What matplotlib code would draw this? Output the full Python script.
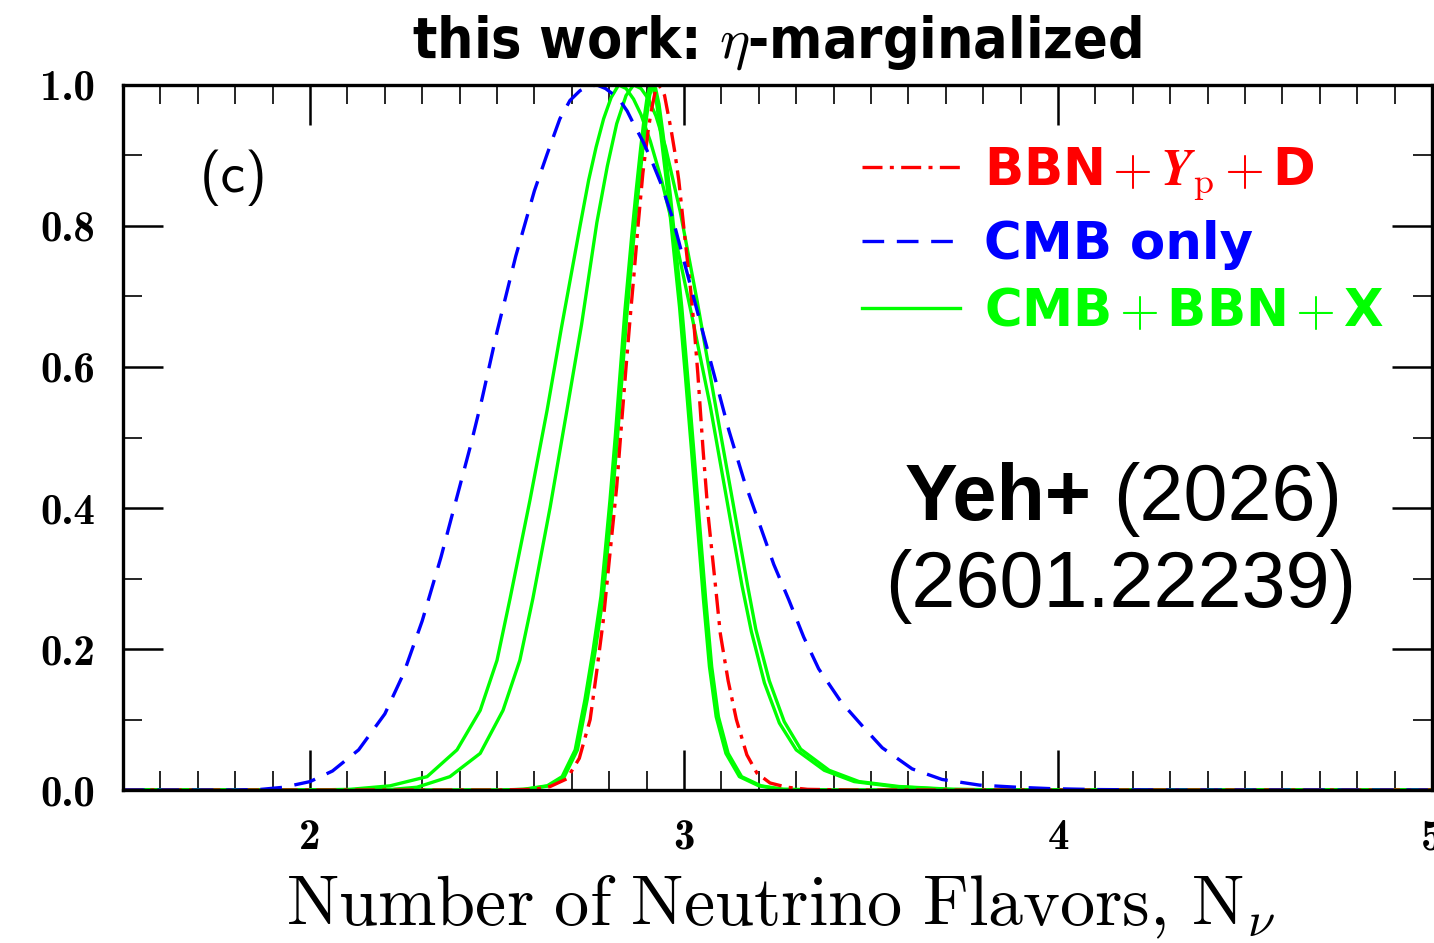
import matplotlib
matplotlib.use("Agg")
import matplotlib.pyplot as plt
from matplotlib import font_manager
from matplotlib.font_manager import FontProperties
from matplotlib.ticker import FixedLocator, MultipleLocator, FuncFormatter

plt.rcParams["mathtext.fontset"] = "cm"

# ---- likelihood curves, normalised to peak = 1 ----
# BBN + Yp + D
bbn_n = [1.5, 2.50, 2.60, 2.642, 2.687, 2.720, 2.749, 2.767, 2.784, 2.800, 2.820, 2.833,
         2.845, 2.856, 2.866, 2.877, 2.890, 2.904, 2.912, 2.920, 2.924, 2.932, 2.940,
         2.948, 2.954, 2.965, 2.975, 2.986, 3.003, 3.017, 3.027, 3.037, 3.051, 3.065,
         3.085, 3.097, 3.118, 3.140, 3.168, 3.195, 3.230, 3.275, 3.330, 3.450, 5.0]
bbn_p = [0.0, 0.0, 0.001, 0.005, 0.016, 0.045, 0.100, 0.170, 0.240, 0.325, 0.430, 0.520,
         0.600, 0.670, 0.730, 0.800, 0.875, 0.935, 0.962, 0.983, 0.993, 1.000, 0.995,
         0.985, 0.968, 0.938, 0.906, 0.865, 0.780, 0.713, 0.657, 0.590, 0.482, 0.387,
         0.285, 0.222, 0.155, 0.100, 0.050, 0.024, 0.010, 0.004, 0.001, 0.0, 0.0]

# CMB only
cmb_n = [1.5, 1.80, 1.87, 1.93, 2.00, 2.06, 2.13, 2.20, 2.25, 2.30, 2.35, 2.40, 2.43,
         2.46, 2.50, 2.55, 2.60, 2.634, 2.668, 2.695, 2.722, 2.745, 2.767, 2.79, 2.81,
         2.83, 2.848, 2.865, 2.89, 2.914, 2.94, 2.97, 3.00, 3.04, 3.08, 3.12, 3.16,
         3.20, 3.24, 3.28, 3.32, 3.36, 3.42, 3.48, 3.53, 3.61, 3.69, 3.79, 3.89, 3.98,
         4.10, 4.30, 5.0]
cmb_p = [0.0, 0.0, 0.001, 0.004, 0.012, 0.027, 0.057, 0.108, 0.165, 0.240, 0.330, 0.430,
         0.490, 0.555, 0.650, 0.757, 0.850, 0.902, 0.952, 0.978, 0.992, 0.998, 1.000,
         0.995, 0.987, 0.977, 0.963, 0.945, 0.920, 0.892, 0.858, 0.810, 0.750, 0.670,
         0.590, 0.510, 0.440, 0.380, 0.320, 0.270, 0.217, 0.172, 0.125, 0.089, 0.060,
         0.030, 0.015, 0.007, 0.004, 0.002, 0.0007, 0.0, 0.0]

# CMB + BBN + X combinations
comb1_n = [1.5, 2.00, 2.107, 2.214, 2.313, 2.393, 2.455, 2.500, 2.535, 2.588, 2.634,
           2.672, 2.722, 2.745, 2.765, 2.785, 2.805, 2.825, 2.845, 2.865, 2.885, 2.910,
           2.940, 2.970, 3.020, 3.070, 3.115, 3.155, 3.180, 3.215, 3.255, 3.300, 3.375,
           3.455, 3.560, 3.700, 3.900, 5.0]
comb1_p = [0.0, 0.0, 0.001, 0.006, 0.019, 0.057, 0.113, 0.184, 0.272, 0.411, 0.539,
           0.655, 0.800, 0.865, 0.912, 0.952, 0.982, 1.000, 0.995, 0.980, 0.958, 0.920,
           0.865, 0.800, 0.675, 0.545, 0.410, 0.290, 0.225, 0.152, 0.095, 0.057, 0.028,
           0.012, 0.005, 0.001, 0.0, 0.0]

comb2_n = [1.5, 2.15, 2.220, 2.286, 2.374, 2.455, 2.516, 2.561, 2.596, 2.642, 2.687,
           2.726, 2.767, 2.795, 2.820, 2.845, 2.865, 2.885, 2.905, 2.925, 2.950, 2.990,
           3.035, 3.080, 3.130, 3.170, 3.192, 3.228, 3.268, 3.312, 3.388, 3.468, 3.575,
           3.720, 3.900, 5.0]
comb2_p = [0.0, 0.0, 0.001, 0.004, 0.019, 0.052, 0.113, 0.184, 0.272, 0.401, 0.539,
           0.660, 0.805, 0.885, 0.945, 0.985, 1.000, 0.995, 0.980, 0.956, 0.913, 0.820,
           0.694, 0.558, 0.410, 0.290, 0.228, 0.155, 0.097, 0.058, 0.028, 0.012, 0.005,
           0.001, 0.0, 0.0]

comb3_n = [1.5, 2.50, 2.570, 2.634, 2.674, 2.709, 2.735, 2.757, 2.778, 2.802, 2.816,
           2.826, 2.842, 2.860, 2.872, 2.884, 2.894, 2.902, 2.910, 2.918, 2.927, 2.938,
           2.958, 2.976, 2.988, 3.004, 3.020, 3.036, 3.052, 3.068, 3.086, 3.112, 3.148,
           3.200, 3.260, 3.400, 5.0]
comb3_p = [0.0, 0.0, 0.001, 0.006, 0.019, 0.057, 0.128, 0.199, 0.275, 0.411, 0.500,
           0.570, 0.680, 0.785, 0.850, 0.910, 0.955, 0.985, 1.000, 0.995, 0.973, 0.930,
           0.841, 0.747, 0.685, 0.585, 0.482, 0.375, 0.270, 0.175, 0.104, 0.052, 0.019,
           0.006, 0.001, 0.0, 0.0]

comb4_n = [1.5, 2.51, 2.576, 2.640, 2.680, 2.715, 2.741, 2.763, 2.784, 2.808, 2.822,
           2.832, 2.848, 2.866, 2.878, 2.890, 2.900, 2.908, 2.916, 2.924, 2.933, 2.944,
           2.964, 2.982, 2.994, 3.010, 3.026, 3.042, 3.058, 3.074, 3.092, 3.118, 3.154,
           3.206, 3.266, 3.410, 5.0]
comb4_p = [0.0, 0.0, 0.001, 0.006, 0.019, 0.057, 0.128, 0.199, 0.275, 0.411, 0.500,
           0.570, 0.680, 0.785, 0.850, 0.910, 0.955, 0.985, 1.000, 0.995, 0.973, 0.930,
           0.841, 0.747, 0.685, 0.585, 0.482, 0.375, 0.270, 0.175, 0.104, 0.052, 0.019,
           0.006, 0.001, 0.0, 0.0]

x_ticks = [2, 3, 4, 5]
y_ticks = [0.0, 0.2, 0.4, 0.6, 0.8, 1.0]

# "{+}" keeps mathtext from adding binary-operator padding; "\," gives a thin gap
legend_labels = [r"BBN$\,{+}\,$$\mathbfit{Y}_{\mathrm{p}}$$\,{+}\,$D",
                 "CMB only",
                 r"CMB$\,{+}\,$BBN$\,{+}\,$X"]

RED, BLUE, GREEN = "#ff0000", "#0000ff", "#00ff00"
LW = 2.4


def title_font(size):
    """Bold condensed sans if one is installed, otherwise a plain bold sans."""
    for f in font_manager.fontManager.ttflist:
        if f.name == "DejaVu Sans" and str(f.stretch) == "condensed" \
                and str(f.weight) in ("bold", "700"):
            return FontProperties(fname=f.fname, size=size)
    return FontProperties(family="Liberation Sans", weight="bold", size=size)


fig = plt.figure(figsize=(14.34, 9.43), dpi=100)
ax = fig.add_axes([0.0858, 0.1622, 0.9128, 0.7477])

green_lines = []
for n, p in [(comb1_n, comb1_p), (comb2_n, comb2_p), (comb3_n, comb3_p), (comb4_n, comb4_p)]:
    green_lines += ax.plot(n, p, color=GREEN, lw=LW, solid_joinstyle="round")
bbn_line, = ax.plot(bbn_n, bbn_p, color=RED, lw=LW, linestyle=(0, (6.0, 2.2, 1.2, 2.2)))
cmb_line, = ax.plot(cmb_n, cmb_p, color=BLUE, lw=LW, linestyle=(0, (6.5, 3.8)))

ax.set_xlim(1.5, 5.0)
ax.set_ylim(0.0, 1.0)

for s in ax.spines.values():
    s.set_linewidth(2.4)

ax.xaxis.set_major_locator(FixedLocator(x_ticks))
ax.xaxis.set_minor_locator(MultipleLocator(0.1))
ax.yaxis.set_major_locator(FixedLocator(y_ticks))
ax.yaxis.set_minor_locator(MultipleLocator(0.1))
ax.xaxis.set_major_formatter(FuncFormatter(lambda v, _: "%d" % round(v)))
ax.yaxis.set_major_formatter(FuncFormatter(lambda v, _: "%.1f" % v))
ax.tick_params(which="both", direction="in", top=True, right=True)
ax.tick_params(which="major", length=29, width=1.8, labelsize=31, labelfontfamily="cmb10")
ax.tick_params(which="minor", length=14, width=1.2)
ax.tick_params(axis="x", which="major", pad=21)
ax.tick_params(axis="y", which="major", pad=20)

# legend
leg = ax.legend([bbn_line, cmb_line, green_lines[0]], legend_labels,
                loc="upper left", bbox_to_anchor=(0.5646, 0.915),
                frameon=False, borderpad=0, borderaxespad=0,
                handlelength=1.9, handletextpad=0.48, labelspacing=0.33,
                labelcolor="linecolor",
                prop=FontProperties(family="DejaVu Sans", weight="bold", size=37))

# panel label and citation
ax.text(0.0588, 0.868, "(c)", transform=ax.transAxes, ha="left", va="center",
        fontsize=40, family="cmss10")
ax.text(0.7403, 0.383, "Yeh+", transform=ax.transAxes, ha="right", va="baseline",
        fontsize=57, family="Liberation Sans", weight="bold")
ax.text(0.7563, 0.383, "(2026)", transform=ax.transAxes, ha="left", va="baseline",
        fontsize=57, family="Liberation Sans")
ax.text(0.7624, 0.260, "(2601.22239)", transform=ax.transAxes, ha="center", va="baseline",
        fontsize=57, family="Liberation Sans")

fig.text(0.542, 0.9385, r"this work: $\eta$-marginalized", ha="center", va="baseline",
         fontproperties=title_font(41))
fig.text(0.5446, 0.0191, r"$\mathrm{Number\ of\ Neutrino\ Flavors,\,N}_{\nu}$",
         ha="center", va="baseline", fontsize=50.5)

fig.savefig("out.png", dpi=100)
